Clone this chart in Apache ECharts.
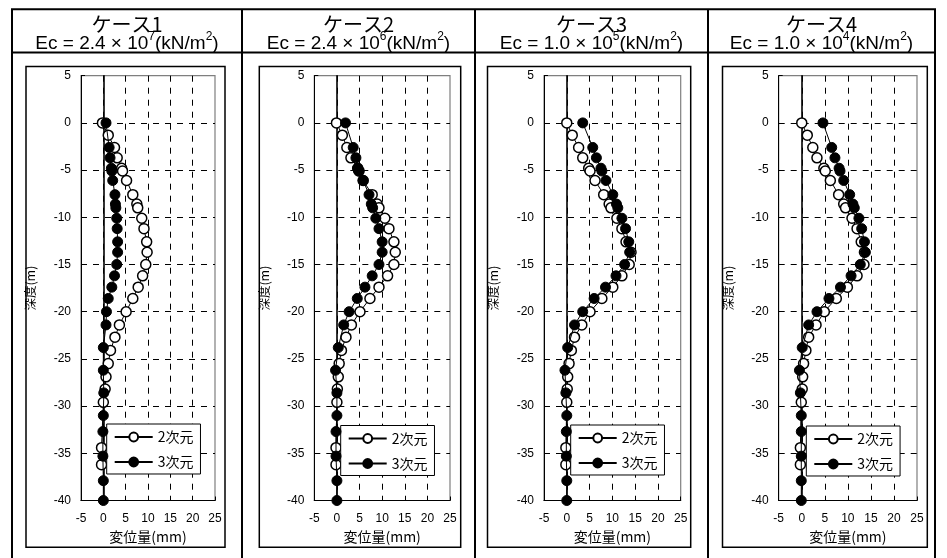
<!DOCTYPE html>
<html>
<head>
<meta charset="utf-8">
<script src="https://cdn.jsdelivr.net/npm/echarts@6/dist/echarts.min.js"></script>
<style>
html,body{margin:0;padding:0;background:#fff;}
#chart{width:947px;height:558px;}
</style>
</head>
<body>
<div id="chart"></div>
<script>
// ---- data ----
const caseNames = ['ケース1', 'ケース2', 'ケース3', 'ケース4'];
const ecMantissa = ['2.4', '2.4', '1.0', '1.0'];
const ecExponent = ['7', '6', '5', '4'];
const seriesNames = ['2次元', '3次元'];
const xTicks = [-5, 0, 5, 10, 15, 20, 25];
const yTicks = [5, 0, -5, -10, -15, -20, -25, -30, -35, -40];

const depth2D = [0, -1.3, -2.6, -3.7, -4.8, -5.1, -6.1, -7.6, -8.6, -9.0, -10.1, -11.2, -12.6, -13.7, -15.0, -16.2, -17.4, -18.6, -20.0, -21.4, -22.7, -24.1, -25.5, -26.9, -28.2, -29.6, -34.4, -36.2];
const depth3D = [0, -2.6, -3.7, -4.8, -5.1, -6.1, -7.6, -8.6, -9.0, -10.1, -11.2, -12.6, -13.7, -15.0, -16.2, -17.4, -18.6, -20.0, -21.4, -23.8, -26.2, -28.6, -31.0, -32.7, -35.3, -37.9, -40.0];

const case1_2D = [-0.2, 1.1, 2.5, 3.1, 4.1, 4.3, 5.2, 6.6, 7.5, 7.7, 8.6, 9.1, 9.7, 9.8, 9.5, 8.8, 7.8, 6.6, 5.1, 3.6, 2.6, 1.6, 1.1, 0.6, 0.4, 0.0, -0.4, -0.4];
const case1_3D = [0.6, 1.3, 1.5, 1.8, 1.9, 2.1, 2.6, 2.7, 2.8, 3.0, 3.1, 3.2, 3.2, 3.0, 2.5, 1.9, 1.1, 0.7, 0.6, 0.0, 0.0, 0.1, 0.0, -0.1, -0.1, 0.0, 0.0];
const case2_2D = [-0.1, 1.2, 2.2, 3.1, 4.6, 4.9, 5.8, 7.8, 8.9, 9.3, 10.6, 11.5, 12.6, 12.9, 12.6, 11.2, 9.3, 7.3, 5.1, 3.2, 2.0, 1.0, 0.5, 0.3, 0.1, 0.0, -0.2, -0.2];
const case2_3D = [1.9, 3.6, 4.2, 4.6, 4.8, 5.8, 7.1, 7.6, 7.9, 8.6, 9.3, 10.0, 10.0, 9.3, 7.8, 6.2, 4.5, 2.7, 1.5, 0.3, -0.3, 0.0, 0.0, -0.2, -0.2, 0.0, 0.0];
const case3_2D = [0.0, 1.2, 2.6, 3.5, 4.8, 5.1, 6.2, 8.1, 9.3, 9.7, 11.0, 12.1, 13.0, 14.1, 13.7, 12.1, 10.1, 7.7, 5.1, 3.3, 1.7, 1.0, 0.5, 0.2, 0.1, 0.0, -0.2, -0.2];
const case3_3D = [3.5, 5.7, 6.5, 7.5, 7.7, 8.6, 10.1, 10.9, 11.2, 12.1, 12.9, 13.6, 13.8, 12.7, 10.8, 8.5, 6.0, 3.5, 1.7, 0.2, -0.4, -0.2, 0.0, -0.1, -0.1, 0.0, 0.0];
const case4_2D = [0.0, 1.2, 2.4, 3.3, 4.8, 5.1, 6.2, 8.0, 9.1, 9.5, 10.9, 12.0, 12.9, 13.6, 13.5, 12.0, 9.9, 7.5, 4.9, 3.1, 1.5, 0.9, 0.4, 0.2, 0.1, -0.1, -0.3, -0.3];
const case4_3D = [4.6, 6.5, 7.2, 8.1, 8.3, 9.1, 10.4, 11.1, 11.4, 12.4, 13.0, 13.6, 13.8, 12.7, 10.7, 8.4, 5.9, 3.3, 1.5, 0.1, -0.5, -0.3, -0.1, -0.1, -0.1, -0.1, -0.1];

const values2D = [case1_2D, case2_2D, case3_2D, case4_2D];
const values3D = [case1_3D, case2_3D, case3_3D, case4_3D];

// ---- layout ----
const LATIN = "'Liberation Sans', Arial, 'Noto Sans CJK JP', sans-serif";
const CJK = "'Noto Sans CJK JP', 'Liberation Sans', sans-serif";

const plotTop = 75.7, plotH = 424.8;
const gridsPos = [
  {left: 81, width: 134},
  {left: 314.3, width: 135.7},
  {left: 544, width: 136.7},
  {left: 778.7, width: 138.3}
];
const legendPos = [
  {left: 106.7, top: 424},
  {left: 340.7, top: 425.5},
  {left: 570.7, top: 425},
  {left: 806.3, top: 426}
];
const innerBoxes = [
  [26, 66.5, 225],
  [259.3, 66.5, 460.7],
  [487.5, 66.5, 690.7],
  [722.5, 66.5, 927.3]
];
const innerBottom = 547.3;
const colEdges = [12, 242, 475, 708, 935];

const dashLine = {show: true, showMinLine: false, showMaxLine: false,
  lineStyle: {color: '#000', type: 6, width: 1}};

const grid = [], xAxis = [], yAxis = [], series = [], legend = [], graphic = [];

for (let i = 0; i < 4; i++) {
  const gp = gridsPos[i];
  grid.push({left: gp.left, top: plotTop, width: gp.width, height: plotH,
    show: true, borderColor: '#7f7f7f', borderWidth: 1.2, backgroundColor: 'transparent'});
  xAxis.push({
    type: 'value', gridIndex: i, min: xTicks[0], max: xTicks[xTicks.length - 1], interval: 5,
    name: '変位量(mm)', nameLocation: 'middle', nameGap: 29,
    nameTextStyle: {fontSize: 14, color: '#000', fontFamily: CJK},
    axisLine: {show: true, onZero: false, lineStyle: {color: '#000', width: 1}},
    axisTick: {show: true, inside: true, length: 4, lineStyle: {color: '#000'}},
    axisLabel: {fontSize: 12, color: '#000', margin: 12, fontFamily: LATIN},
    splitLine: dashLine
  });
  yAxis.push({
    type: 'value', gridIndex: i, min: yTicks[yTicks.length - 1], max: yTicks[0], interval: 5,
    name: '深度(m)', nameLocation: 'middle', nameGap: 44,
    nameTextStyle: {fontSize: 12.5, color: '#000', fontFamily: CJK},
    axisLine: {show: true, onZero: false, lineStyle: {color: '#000', width: 1}},
    axisTick: {show: true, inside: true, length: 4, lineStyle: {color: '#000'}},
    axisLabel: {fontSize: 12, color: '#000', margin: 10, fontFamily: LATIN},
    splitLine: dashLine
  });
  // zero reference line (x = 0)
  yAxis.push({
    type: 'value', gridIndex: i, min: yTicks[yTicks.length - 1], max: yTicks[0], interval: 5,
    position: 'left',
    axisLine: {show: true, onZero: true, lineStyle: {color: '#000', width: 1.6}},
    axisTick: {show: false}, axisLabel: {show: false}, splitLine: {show: false}
  });

  const d2 = depth2D.map((d, k) => [values2D[i][k], d]);
  const d3 = depth3D.map((d, k) => [values3D[i][k], d]);
  series.push({
    type: 'line', name: seriesNames[0], xAxisIndex: i, yAxisIndex: i * 2, data: d2,
    symbol: 'circle', symbolSize: 10, z: 3,
    lineStyle: {color: '#000', width: 1},
    itemStyle: {color: '#fff', borderColor: '#000', borderWidth: 1.5},
    animation: false
  });
  series.push({
    type: 'line', name: seriesNames[1], xAxisIndex: i, yAxisIndex: i * 2, data: d3,
    symbol: 'circle', symbolSize: 10, z: 4,
    lineStyle: {color: '#000', width: 1},
    itemStyle: {color: '#000', borderColor: '#000', borderWidth: 1},
    animation: false
  });
  legend.push({
    data: seriesNames, orient: 'vertical', left: legendPos[i].left, top: legendPos[i].top,
    backgroundColor: '#fff', borderColor: '#000', borderWidth: 1,
    padding: [6, 7, 5, 7], itemGap: 11, itemWidth: 38, itemHeight: 11,
    textStyle: {fontSize: 14, color: '#000', fontFamily: CJK},
    selectedMode: false
  });

  // inner panel box
  const b = innerBoxes[i];
  graphic.push({type: 'rect', shape: {x: b[0], y: b[1], width: b[2] - b[0], height: innerBottom - b[1]},
    style: {fill: 'none', stroke: '#000', lineWidth: 1.5}, z: 0, silent: true});

  // header texts
  const cx = (colEdges[i] + colEdges[i + 1]) / 2;
  graphic.push({type: 'text', x: cx, y: 24.5, z: 10, silent: true,
    style: {text: caseNames[i], fill: '#000', font: "20px " + CJK, align: 'center', verticalAlign: 'middle'}});
  graphic.push({type: 'text', x: cx, y: 42, z: 10, silent: true,
    style: {
      text: '{a|Ec = ' + ecMantissa[i] + ' × 10}{s|' + ecExponent[i] + '}{a|(kN/m}{s|2}{a|)}',
      align: 'center', verticalAlign: 'middle', fill: '#000',
      rich: {
        a: {fontSize: 19, fontFamily: 'Liberation Sans', lineHeight: 22, verticalAlign: 'bottom', fill: '#000'},
        s: {fontSize: 12, fontFamily: 'Liberation Sans', lineHeight: 13, verticalAlign: 'top', fill: '#000'}
      }
    }});
}

// table lines
graphic.push({type: 'rect', shape: {x: 12, y: 9.3, width: 923, height: 600},
  style: {fill: 'none', stroke: '#000', lineWidth: 2}, z: 0, silent: true});
graphic.push({type: 'line', shape: {x1: 12, y1: 52.5, x2: 935, y2: 52.5},
  style: {stroke: '#000', lineWidth: 2}, z: 0, silent: true});
for (let j = 1; j < 4; j++) {
  graphic.push({type: 'line', shape: {x1: colEdges[j], y1: 9.3, x2: colEdges[j], y2: 560},
    style: {stroke: '#000', lineWidth: 2}, z: 0, silent: true});
}

const chart = echarts.init(document.getElementById('chart'), null, {renderer: 'canvas'});
chart.setOption({
  animation: false,
  backgroundColor: '#fff',
  textStyle: {fontFamily: LATIN},
  grid, xAxis, yAxis, series, legend, graphic
});
</script>
</body>
</html>
